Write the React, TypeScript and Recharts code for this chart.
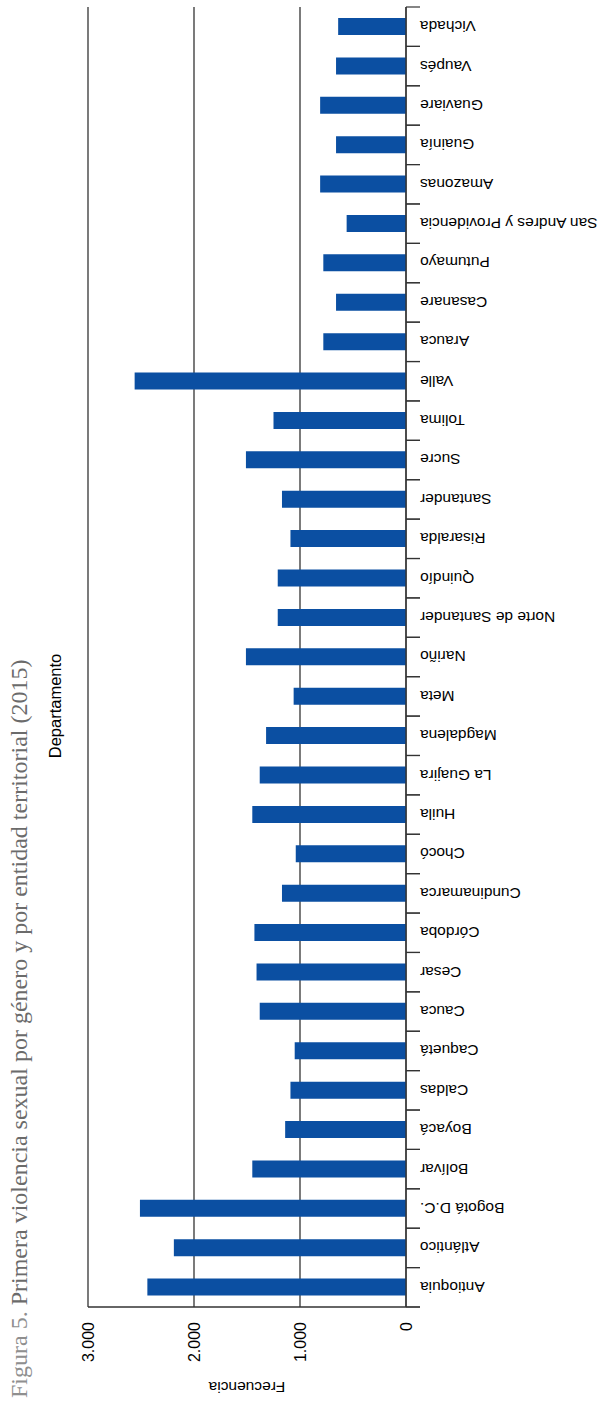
import { BarChart, Bar, XAxis, YAxis, CartesianGrid } from 'recharts';

const departamentos = [
  'Antioquia', 'Atlántico', 'Bogotá D.C.', 'Bolívar', 'Boyacá', 'Caldas', 'Caquetá',
  'Cauca', 'Cesar', 'Córdoba', 'Cundinamarca', 'Chocó', 'Huila', 'La Guajira',
  'Magdalena', 'Meta', 'Nariño', 'Norte de Santander', 'Quindío', 'Risaralda',
  'Santander', 'Sucre', 'Tolima', 'Valle', 'Arauca', 'Casanare', 'Putumayo',
  'San Andres y Providencia', 'Amazonas', 'Guainía', 'Guaviare', 'Vaupés', 'Vichada',
];

const frecuencia = [
  2440, 2190, 2510, 1450, 1140, 1090, 1050,
  1380, 1410, 1430, 1170, 1040, 1450, 1380,
  1320, 1060, 1510, 1210, 1210, 1090,
  1170, 1510, 1250, 2560, 780, 660, 780,
  560, 810, 660, 810, 660, 640,
];

const valueTicks = [0, 1000, 2000, 3000];

const data = departamentos.map((name, i) => ({ name, value: frecuencia[i] }));

const SANS = '"Liberation Sans", Arial, sans-serif';
const SERIF = '"Liberation Serif", "Times New Roman", serif';
const BAND = 1300 / departamentos.length;

const fmt = (v: number) => String(v).replace(/\B(?=(\d{3})+(?!\d))/g, '.');

function CategoryTick(props: any) {
  const { x, y, payload } = props;
  return (
    <g>
      <line x1={x - 14} x2={x} y1={y - BAND / 2} y2={y - BAND / 2} stroke="#333" strokeWidth={1.2} />
      <line x1={x - 14} x2={x} y1={y + BAND / 2} y2={y + BAND / 2} stroke="#333" strokeWidth={1.2} />
      <text
        x={x}
        y={y}
        dy="0.36em"
        textAnchor="end"
        transform={`rotate(180 ${x} ${y})`}
        fontFamily={SANS}
        fontSize={15.5}
        fill="#000"
      >
        {payload.value}
      </text>
    </g>
  );
}

function ValueTick(props: any) {
  const { x, y, payload } = props;
  return (
    <text
      x={x}
      y={y}
      dy="0.36em"
      textAnchor="end"
      transform={`rotate(-90 ${x} ${y})`}
      fontFamily={SANS}
      fontSize={16}
      fill="#000"
    >
      {fmt(payload.value)}
    </text>
  );
}

export default function App() {
  return (
    <div style={{ position: 'absolute', left: 0, top: 0, width: 598, height: 1401, background: '#fff' }}>
      <BarChart
        layout="vertical"
        width={598}
        height={1401}
        data={data}
        margin={{ top: 7, right: 12, bottom: 34, left: 88 }}
        barCategoryGap={0}
      >
        <CartesianGrid horizontal={false} stroke="#333" strokeWidth={1.3} />
        <XAxis
          type="number"
          domain={[0, 3000]}
          ticks={valueTicks}
          reversed
          height={60}
          tickSize={0}
          tickMargin={15}
          tickLine={false}
          axisLine={{ stroke: '#333', strokeWidth: 1.3 }}
          tick={<ValueTick />}
          interval={0}
        />
        <YAxis
          type="category"
          dataKey="name"
          orientation="right"
          reversed
          width={180}
          tickSize={0}
          tickMargin={14}
          tickLine={false}
          axisLine={{ stroke: '#333', strokeWidth: 1.3 }}
          tick={<CategoryTick />}
          interval={0}
        />
        <Bar dataKey="value" fill="#0b4fa2" barSize={17} isAnimationActive={false} />
      </BarChart>
      <svg
        width={598}
        height={1401}
        style={{ position: 'absolute', left: 0, top: 0, pointerEvents: 'none' }}
      >
        <line x1={406} x2={420} y1={1307} y2={1307} stroke="#333" strokeWidth={1.3} />
        <text
          x={27}
          y={1398}
          transform="rotate(-90 27 1398)"
          fontFamily={SERIF}
          fontSize={24}
        >
          <tspan fill="#8f8f8f">Figura 5.</tspan>
          <tspan fill="#6b6b6b"> Primera violencia sexual por género y por entidad territorial (2015)</tspan>
        </text>
        <text
          x={61}
          y={706}
          transform="rotate(-90 61 706)"
          textAnchor="middle"
          fontFamily={SANS}
          fontSize={16.5}
          fill="#000"
        >
          Departamento
        </text>
        <text
          x={247}
          y={1382}
          transform="rotate(180 247 1382)"
          textAnchor="middle"
          fontFamily={SANS}
          fontSize={15.5}
          fill="#000"
        >
          Frecuencia
        </text>
      </svg>
    </div>
  );
}
